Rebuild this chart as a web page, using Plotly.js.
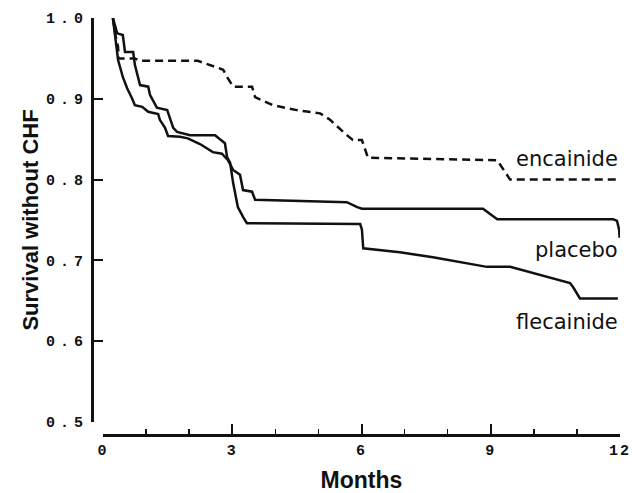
<!DOCTYPE html>
<html>
<head>
<meta charset="utf-8">
<script src="https://cdn.plot.ly/plotly-3.0.1.min.js"></script>
<style>
  html, body { margin: 0; padding: 0; background: #fff; }
  #chart { width: 632px; height: 493px; }
  .ytick text { letter-spacing: 5px; }
  .xtick text { letter-spacing: 2px; }
</style>
</head>
<body>
<div id="chart"></div>
<script>
// Months and survival (without CHF)
const encainideMonths = [0.23, 0.28, 0.35, 0.36, 0.74, 0.86, 2.2, 2.79, 2.88, 3.02, 3.46, 3.53, 3.95, 4.5, 5.04, 5.27, 5.66, 5.8, 6.01, 6.15, 9.15, 9.45, 12.0];
const encainideSurv   = [1.0, 0.981, 0.964, 0.95, 0.95, 0.947, 0.947, 0.936, 0.927, 0.915, 0.915, 0.902, 0.892, 0.886, 0.882, 0.874, 0.855, 0.849, 0.849, 0.827, 0.824, 0.80, 0.80];

const placeboMonths = [0.23, 0.28, 0.33, 0.35, 0.46, 0.56, 0.67, 0.74, 0.91, 1.05, 1.28, 1.32, 1.44, 1.51, 1.79, 1.97, 2.25, 2.55, 2.76, 2.90, 3.02, 3.18, 3.25, 3.46, 3.53, 5.66, 5.90, 6.01, 8.82, 9.15, 11.84, 11.93, 11.98, 11.99];
const placeboSurv   = [1.0, 0.981, 0.96, 0.948, 0.927, 0.913, 0.901, 0.892, 0.89, 0.884, 0.881, 0.874, 0.864, 0.854, 0.853, 0.851, 0.844, 0.834, 0.832, 0.824, 0.812, 0.806, 0.787, 0.785, 0.775, 0.772, 0.766, 0.764, 0.764, 0.751, 0.751, 0.749, 0.738, 0.728];

const flecainideMonths = [0.23, 0.33, 0.46, 0.51, 0.70, 0.74, 0.86, 1.05, 1.09, 1.25, 1.49, 1.56, 1.63, 1.72, 2.02, 2.60, 2.83, 2.88, 2.95, 3.02, 3.13, 3.25, 3.34, 5.97, 6.01, 6.04, 6.89, 7.66, 8.68, 8.91, 9.45, 9.52, 10.31, 10.84, 10.91, 11.07, 11.95];
const flecainideSurv   = [1.0, 0.981, 0.979, 0.958, 0.958, 0.942, 0.917, 0.915, 0.905, 0.889, 0.886, 0.876, 0.864, 0.859, 0.855, 0.855, 0.845, 0.828, 0.821, 0.796, 0.766, 0.754, 0.746, 0.745, 0.738, 0.715, 0.71, 0.704, 0.694, 0.692, 0.692, 0.691, 0.679, 0.672, 0.667, 0.653, 0.653];

const seriesNames = ['encainide', 'placebo', 'flecainide'];
const xTickVals = [0, 3, 6, 9, 12];
const xTickText = ['0', '3', '6', '9', '12'];
const yTickVals = [0.5, 0.6, 0.7, 0.8, 0.9, 1.0];
const yTickText = ['0.5', '0.6', '0.7', '0.8', '0.9', '1.0'];

const ink = '#111';

const traces = [
  { x: encainideMonths, y: encainideSurv, name: seriesNames[0], mode: 'lines',
    line: { color: ink, width: 2.5, dash: '8px,5px' } },
  { x: placeboMonths, y: placeboSurv, name: seriesNames[1], mode: 'lines',
    line: { color: ink, width: 2.5 } },
  { x: flecainideMonths, y: flecainideSurv, name: seriesNames[2], mode: 'lines',
    line: { color: ink, width: 2.5 } }
];

const labelFont = { family: 'DejaVu Sans, sans-serif', size: 21, color: ink };
const titleFont = { family: 'Liberation Sans, Arial, sans-serif', size: 22, color: ink, weight: 'bold' };
const xTitleFont = { family: 'Liberation Sans, Arial, sans-serif', size: 23, color: ink, weight: 'bold' };
const tickFont = { family: 'Liberation Mono, DejaVu Sans Mono, monospace', size: 15, color: ink, weight: 'bold' };

const layout = {
  width: 632, height: 493,
  paper_bgcolor: '#fff', plot_bgcolor: '#fff',
  margin: { l: 92, r: 12, t: 18, b: 58 },
  showlegend: false,
  xaxis: {
    domain: [11/528, 1], range: [0, 12], anchor: 'free', position: 0,
    showgrid: false, zeroline: false, showline: true, linecolor: ink, linewidth: 2.5,
    ticks: 'inside', ticklen: 10, tickwidth: 2, tickcolor: ink,
    tickvals: xTickVals, ticktext: xTickText, tickfont: tickFont,
    ticklabeloverflow: 'allow',
    minor: { dtick: 1, ticks: 'inside', ticklen: 5, tickwidth: 1.5, tickcolor: ink, showgrid: false },
    title: { text: 'Months', font: xTitleFont, standoff: 14 }
  },
  yaxis: {
    domain: [13/417, 1], range: [0.5, 1.0], anchor: 'free', position: 0,
    showgrid: false, zeroline: false, showline: true, linecolor: ink, linewidth: 2.5,
    ticks: 'inside', ticklen: 9, tickwidth: 2, tickcolor: ink,
    tickvals: yTickVals, ticktext: yTickText, tickfont: tickFont,
    ticklabelstandoff: 0, ticklabeloverflow: 'allow',
    title: { text: 'Survival without CHF', font: titleFont, standoff: 0 }
  },
  annotations: [
    { x: 12, y: 0.8255, xref: 'x', yref: 'y', text: seriesNames[0], showarrow: false, xanchor: 'right', yanchor: 'middle', font: labelFont },
    { x: 12, y: 0.713, xref: 'x', yref: 'y', text: seriesNames[1], showarrow: false, xanchor: 'right', yanchor: 'middle', font: labelFont },
    { x: 12, y: 0.624, xref: 'x', yref: 'y', text: seriesNames[2], showarrow: false, xanchor: 'right', yanchor: 'middle', font: labelFont }
  ]
};

Plotly.newPlot('chart', traces, layout, { staticPlot: true, displayModeBar: false });
</script>
</body>
</html>
